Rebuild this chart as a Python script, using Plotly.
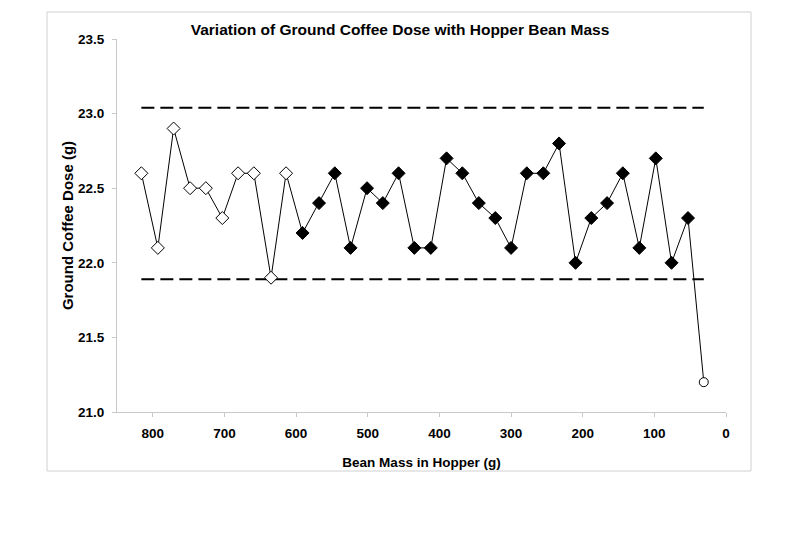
import plotly.graph_objects as go

# Data
mass_g = [816, 793, 771, 748, 726, 703, 681, 659, 635, 614,
          591, 568, 546, 524, 501, 479, 457, 435, 412, 390,
          368, 345, 322, 300, 278, 255, 233, 210, 188, 166,
          144, 121, 98, 76, 53, 31]
dose_g = [22.6, 22.1, 22.9, 22.5, 22.5, 22.3, 22.6, 22.6, 21.9, 22.6,
          22.2, 22.4, 22.6, 22.1, 22.5, 22.4, 22.6, 22.1, 22.1, 22.7,
          22.6, 22.4, 22.3, 22.1, 22.6, 22.6, 22.8, 22.0, 22.3, 22.4,
          22.6, 22.1, 22.7, 22.0, 22.3, 21.2]
n_open = 10      # first points drawn as open diamonds
n_filled = 25    # then filled diamonds; last point is an open circle
upper_limit = 23.04
lower_limit = 21.89
x_ticks = [800, 700, 600, 500, 400, 300, 200, 100, 0]
y_ticks = [21.0, 21.5, 22.0, 22.5, 23.0, 23.5]

FONT = "Liberation Sans, Arial, sans-serif"
AXIS_GRAY = "#c8c8c8"

fig = go.Figure()

# control limits (dashed)
for lim in (upper_limit, lower_limit):
    fig.add_trace(go.Scatter(
        x=[mass_g[0], mass_g[-1]], y=[lim, lim], mode="lines",
        line=dict(color="black", width=2, dash="13px,6px"),
        hoverinfo="skip", showlegend=False))

# connecting line
fig.add_trace(go.Scatter(x=mass_g, y=dose_g, mode="lines",
                         line=dict(color="black", width=1), showlegend=False))

# open diamonds
fig.add_trace(go.Scatter(x=mass_g[:n_open], y=dose_g[:n_open], mode="markers",
                         marker=dict(symbol="diamond", size=10, color="white",
                                     line=dict(color="black", width=1)),
                         showlegend=False))
# filled diamonds
fig.add_trace(go.Scatter(x=mass_g[n_open:n_open + n_filled],
                         y=dose_g[n_open:n_open + n_filled], mode="markers",
                         marker=dict(symbol="diamond", size=10, color="black",
                                     line=dict(color="black", width=1)),
                         showlegend=False))
# open circle
fig.add_trace(go.Scatter(x=mass_g[n_open + n_filled:], y=dose_g[n_open + n_filled:],
                         mode="markers",
                         marker=dict(symbol="circle", size=9, color="white",
                                     line=dict(color="black", width=1)),
                         showlegend=False))

fig.update_layout(
    width=800, height=533,
    margin=dict(l=117, r=74, t=39, b=121),
    paper_bgcolor="white", plot_bgcolor="white",
    font=dict(family=FONT, size=13.5, color="black"),
    title=dict(text="<b>Variation of Ground Coffee Dose with Hopper Bean Mass</b>",
               x=0.5, xref="container", xanchor="center", y=1 - 30 / 533, yanchor="middle",
               font=dict(family=FONT, size=15.5, color="black")),
    xaxis=dict(range=[850, 0], tickvals=x_ticks, ticktext=[f"<b>{v}</b>" for v in x_ticks],
               showgrid=False, zeroline=False, showline=True, linecolor=AXIS_GRAY,
               linewidth=1, ticks="outside", ticklen=4, tickcolor=AXIS_GRAY,
               ticklabelstandoff=5, tickfont=dict(size=13.5),
               title=dict(text="<b>Bean Mass in Hopper (g)</b>", standoff=17,
                          font=dict(family=FONT, size=13.5))),
    yaxis=dict(range=[21.0, 23.5], tickvals=y_ticks, ticktext=[f"<b>{v:.1f}</b>" for v in y_ticks],
               showgrid=False, zeroline=False, showline=True, linecolor=AXIS_GRAY,
               linewidth=1, ticks="outside", ticklen=4, tickcolor=AXIS_GRAY,
               ticklabelstandoff=5, tickfont=dict(size=13.5),
               title=dict(text="<b>Ground Coffee Dose (g)</b>", standoff=0,
                          font=dict(family=FONT, size=15))),
)

# outer chart border
fig.add_shape(type="rect", xref="paper", yref="paper",
              x0=(47 - 117) / 609, x1=(751 - 117) / 609,
              y0=(412 - 471) / 373, y1=(412 - 12) / 373,
              line=dict(color="#d0d0d0", width=1), fillcolor="rgba(0,0,0,0)", layer="below")

fig.write_html("out.html")
